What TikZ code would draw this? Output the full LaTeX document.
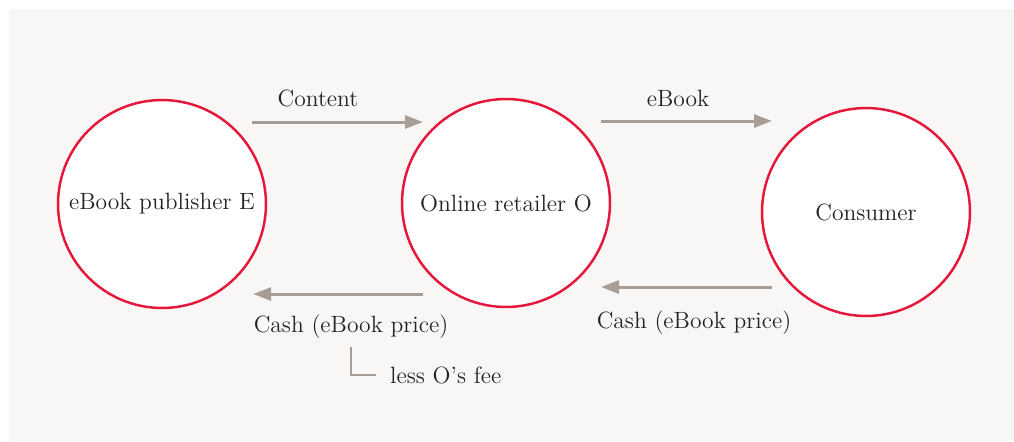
\documentclass[tikz,border=0pt]{standalone}
\usepackage{tikz}
\usetikzlibrary{arrows.meta,positioning}
\definecolor{bgpaper}{HTML}{F9F7F6}
\definecolor{ringred}{HTML}{E5173A}
\definecolor{flowgray}{HTML}{A99E95}
\definecolor{inkgray}{HTML}{232323}

\begin{document}
\begin{tikzpicture}[x=0.02cm,y=-0.02cm,
    party/.style={circle, draw=ringred, line width=1.4pt, fill=white,
        minimum size=4.16cm, inner sep=0pt, text=inkgray,
        font=\fontsize{13.4}{16}\selectfont},
    flow/.style={draw=flowgray, line width=1.7pt,
        -{Triangle[length=0.36cm, width=0.26cm]}},
    tag/.style={text=inkgray, font=\fontsize{13.4}{16}\selectfont}]

    % paper
    \useasboundingbox (0,0) rectangle (1014,441);
    \fill[bgpaper] (9,9) rectangle (1014,441);

    % parties
    \node[party] (pub) at (162,204) {eBook publisher E};
    \node[party] (ret) at (506,203) {Online retailer O};
    \node[party] (con) at (866,212) {Consumer};

    % arrow ends
    \coordinate (contentA) at (252,122);
    \coordinate (contentB) at (423,122);
    \coordinate (ebookA) at (601,121);
    \coordinate (ebookB) at (772,121);
    \coordinate (payA) at (772,287);
    \coordinate (payB) at (601,287);
    \coordinate (feeA) at (423,294);
    \coordinate (feeB) at (253,294);

    \draw[flow] (contentA) -- (contentB);
    \draw[flow] (ebookA) -- (ebookB);
    \draw[flow] (payA) -- (payB);
    \draw[flow] (feeA) -- (feeB);

    % labels
    \node[tag] (content) at (318,98) {Content};
    \node[tag] (ebook) at (678,98) {eBook};
    \node[tag] (cashL) at (351,327) {Cash (eBook price)};
    \node[tag] (cashR) at (694,323) {Cash (eBook price)};
    \node[tag, anchor=west] (fee) at (384,375) {less O's fee};

    \coordinate (bracketTop) at (351,347);
    \draw[flowgray, line width=1.1pt] (bracketTop) |- ([xshift=-0.16cm]fee.west);

\end{tikzpicture}
\end{document}
